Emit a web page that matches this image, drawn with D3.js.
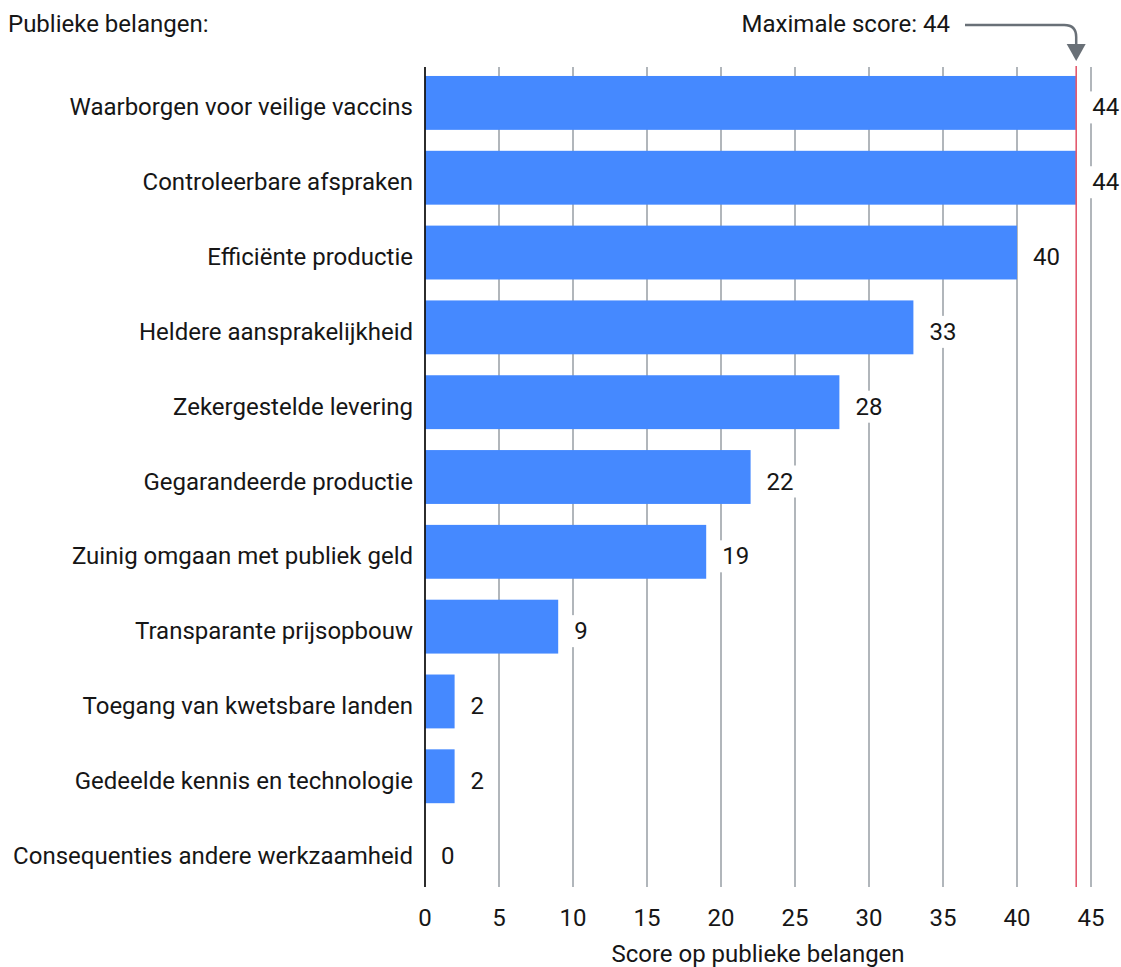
<!DOCTYPE html>
<html>
<head>
<meta charset="utf-8">
<script src="https://cdn.jsdelivr.net/npm/d3@7"></script>
<style>
  html, body { margin: 0; padding: 0; background: #fff; }
  svg { display: block; font-family: Roboto, "Noto Sans", sans-serif; }
</style>
</head>
<body>
<svg id="chart" width="1121" height="967"></svg>
<script>
const categories = [
  "Waarborgen voor veilige vaccins",
  "Controleerbare afspraken",
  "Efficiënte productie",
  "Heldere aansprakelijkheid",
  "Zekergestelde levering",
  "Gegarandeerde productie",
  "Zuinig omgaan met publiek geld",
  "Transparante prijsopbouw",
  "Toegang van kwetsbare landen",
  "Gedeelde kennis en technologie",
  "Consequenties andere werkzaamheid"
];
const scores = [44, 44, 40, 33, 28, 22, 19, 9, 2, 2, 0];
const xTicks = [0, 5, 10, 15, 20, 25, 30, 35, 40, 45];
const maxScore = 44;
const yTitle = "Publieke belangen:";
const xTitle = "Score op publieke belangen";
const maxLabel = "Maximale score: 44";

const svg = d3.select("#chart");
const textColor = "#161616";
const fontSize = 24;
const textShift = 12.5; // baseline below band centre

const x = d3.scaleLinear().domain([0, 45]).range([425, 1091]);
const y = d3.scaleBand().domain(categories).range([67, 887]).paddingInner(0.28).paddingOuter(0.12);
const plotTop = 67, plotBottom = 887;

// gridlines
const grid = svg.append("g");
grid.selectAll("line").data(xTicks.filter(d => d > 0)).join("line")
  .attr("x1", d => x(d)).attr("x2", d => x(d))
  .attr("y1", plotTop).attr("y2", plotBottom)
  .attr("stroke", "#979ea5").attr("stroke-width", 1.5);

// bars
svg.append("g").selectAll("rect").data(categories).join("rect")
  .attr("x", x(0))
  .attr("y", d => y(d))
  .attr("width", (d, i) => x(scores[i]) - x(0))
  .attr("height", y.bandwidth())
  .attr("fill", "#4589ff");

// max line
svg.append("line")
  .attr("x1", x(maxScore)).attr("x2", x(maxScore))
  .attr("y1", plotTop - 1).attr("y2", plotBottom)
  .attr("stroke", "#e35a6e").attr("stroke-width", 1.6);

// zero axis
svg.append("line")
  .attr("x1", x(0)).attr("x2", x(0))
  .attr("y1", plotTop).attr("y2", plotBottom)
  .attr("stroke", textColor).attr("stroke-width", 1.8);

// value labels with white backgrounds
const vl = svg.append("g").selectAll("g").data(categories).join("g");
vl.each(function(d, i) {
  const g = d3.select(this);
  const bg = g.append("rect").attr("fill", "#fff");
  const t = g.append("text")
    .attr("x", x(scores[i]) + 16)
    .attr("y", y(d) + y.bandwidth() / 2 + textShift)
    .attr("font-size", fontSize)
    .attr("fill", textColor)
    .text(scores[i]);
  const b = t.node().getBBox();
  bg.attr("x", b.x - 3).attr("y", b.y - 2).attr("width", b.width + 6).attr("height", b.height + 4);
});

// category labels
svg.append("g").selectAll("text").data(categories).join("text")
  .attr("x", x(0) - 12)
  .attr("y", d => y(d) + y.bandwidth() / 2 + textShift)
  .attr("text-anchor", "end")
  .attr("font-size", fontSize)
  .attr("fill", textColor)
  .text(d => d);

// x tick labels
svg.append("g").selectAll("text").data(xTicks).join("text")
  .attr("x", d => x(d))
  .attr("y", 926)
  .attr("text-anchor", "middle")
  .attr("font-size", fontSize)
  .attr("fill", textColor)
  .text(d => d);

// titles
svg.append("text").attr("x", (x(0) + x(45)) / 2).attr("y", 962)
  .attr("text-anchor", "middle").attr("font-size", fontSize).attr("fill", textColor)
  .text(xTitle);
svg.append("text").attr("x", 8).attr("y", 32)
  .attr("font-size", fontSize).attr("fill", textColor).text(yTitle);
svg.append("text").attr("x", 950).attr("y", 32)
  .attr("text-anchor", "end")
  .attr("font-size", fontSize).attr("fill", textColor).text(maxLabel);

// arrow
const ax = x(maxScore), r = 12;
svg.append("path")
  .attr("d", `M965,25 H${ax - r} Q${ax},25 ${ax},${25 + r} V46`)
  .attr("fill", "none").attr("stroke", "#697077").attr("stroke-width", 2.5);
svg.append("path")
  .attr("d", `M${ax - 9.5},44 L${ax + 9.5},44 L${ax},61 Z`)
  .attr("fill", "#697077");
</script>
</body>
</html>
